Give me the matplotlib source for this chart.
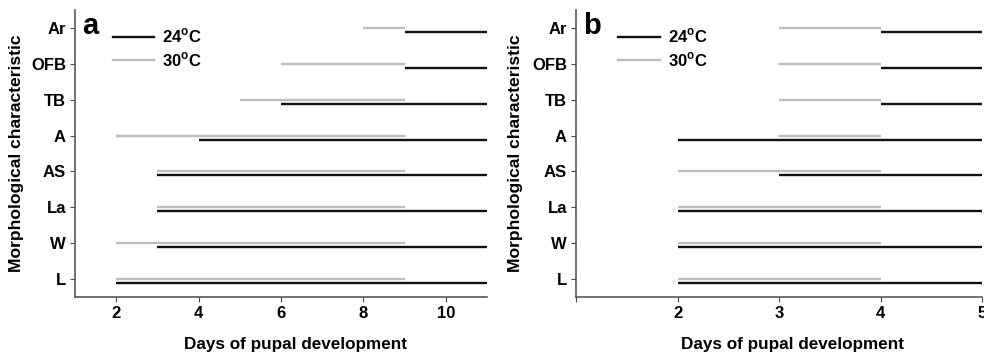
import matplotlib
matplotlib.use("Agg")
import matplotlib.pyplot as plt
from matplotlib.lines import Line2D

plt.rcParams['font.family'] = ['Liberation Sans', 'DejaVu Sans']
plt.rcParams['font.weight'] = 'bold'
plt.rcParams['mathtext.fontset'] = 'custom'
plt.rcParams['mathtext.rm'] = 'Liberation Sans:bold'
plt.rcParams['mathtext.bf'] = 'Liberation Sans:bold'

characteristics = ['L', 'W', 'La', 'AS', 'A', 'TB', 'OFB', 'Ar']

# Panel a: start/end days
a_30_start = [2, 2, 3, 3, 2, 5, 6, 8]
a_30_end = [9, 9, 9, 9, 9, 9, 9, 9]
a_24_start = [2, 3, 3, 3, 4, 6, 9, 9]
a_24_end = [11, 11, 11, 11, 11, 11, 11, 11]

# Panel b: start/end days
b_30_start = [2, 2, 2, 2, 3, 3, 3, 3]
b_30_end = [4, 4, 4, 4, 4, 4, 4, 4]
b_24_start = [2, 2, 2, 3, 2, 4, 4, 4]
b_24_end = [5, 5, 5, 5, 5, 5, 5, 5]

a_xticks = [2, 4, 6, 8, 10]
a_xticklabels = ['2', '4', '6', '8', '10']
b_xticks = [1, 2, 3, 4, 5]
b_xticklabels = ['', '2', '3', '4', '5']

labels = ['24$^{\\mathregular{o}}$C', '30$^{\\mathregular{o}}$C']
black = '#111111'
gray = '#bdbdbd'
spine_c = '#4a4a4a'

fig = plt.figure(figsize=(9.84, 3.56), dpi=100)
ax_a = fig.add_axes([0.0762, 0.1657, 0.4187, 0.806])
ax_b = fig.add_axes([0.5854, 0.1657, 0.4126, 0.806])

def draw(ax, s30, e30, s24, e24, xlim, xticks, xticklabels, letter, ylab_x, xlab_x, leg_x):
    ys = list(range(1, len(characteristics) + 1))
    off = 0.11
    for y, s, e in zip(ys, s30, e30):
        ax.plot([s, e], [y, y], color=gray, lw=1.7, solid_capstyle='butt', clip_on=False)
    for y, s, e in zip(ys, s24, e24):
        ax.plot([s, e], [y - off, y - off], color=black, lw=1.7, solid_capstyle='butt', clip_on=False)
    ax.set_xlim(*xlim)
    ax.set_ylim(0.5, 8.5)
    ax.set_yticks(ys)
    ax.set_yticklabels(characteristics, fontsize=12, fontweight='bold')
    ax.set_xticks(xticks)
    ax.set_xticklabels(xticklabels, fontsize=12, fontweight='bold')
    for sp in ['top', 'right']:
        ax.spines[sp].set_visible(False)
    for sp in ['left', 'bottom']:
        ax.spines[sp].set_color(spine_c)
        ax.spines[sp].set_linewidth(1.1)
    ax.tick_params(axis='both', colors=spine_c, labelcolor='black', length=3.5, width=0.8, pad=3)
    ax.set_xlabel('Days of pupal development', fontsize=12.3, fontweight='bold')
    ax.xaxis.set_label_coords(xlab_x, -0.139)
    ax.set_ylabel('Morphological characteristic', fontsize=12.6, fontweight='bold')
    ax.yaxis.set_label_coords(ylab_x, 0.5)
    ax.text(0.018, 0.995, letter, transform=ax.transAxes, fontsize=21, fontweight='bold',
            va='top', ha='left')
    handles = [Line2D([0], [0], color=black, lw=1.7), Line2D([0], [0], color=gray, lw=1.7)]
    ax.legend(handles, labels, loc='upper left', bbox_to_anchor=(leg_x, 0.965), frameon=False,
              handlelength=2.5, handletextpad=0.45, labelspacing=0.3,
              borderaxespad=0, prop={'weight': 'bold', 'size': 12})

draw(ax_a, a_30_start, a_30_end, a_24_start, a_24_end, (1, 11), a_xticks, a_xticklabels, 'a',
     -0.123, 0.536, 0.075)
draw(ax_b, b_30_start, b_30_end, b_24_start, b_24_end, (1, 5), b_xticks, b_xticklabels, 'b',
     -0.130, 0.534, 0.088)

fig.savefig('out.png', dpi=100)
